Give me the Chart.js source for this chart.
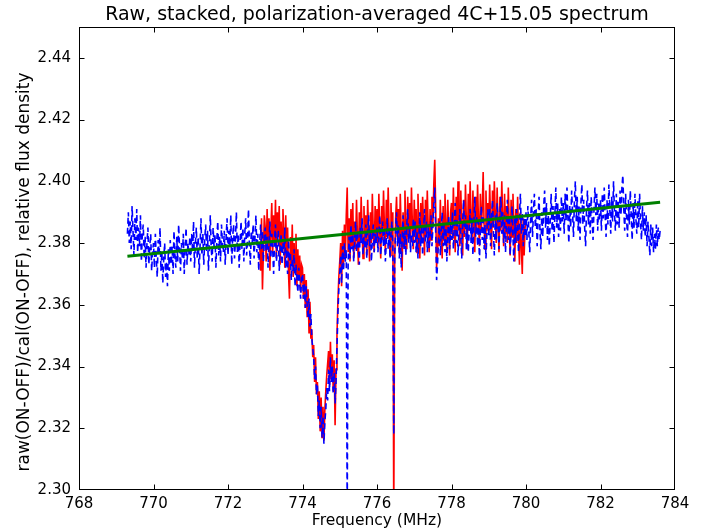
<!DOCTYPE html>
<html>
<head>
<meta charset="utf-8">
<script src="https://cdn.jsdelivr.net/npm/chart.js@4.4.0/dist/chart.umd.min.js"></script>
<style>
html, body { margin: 0; padding: 0; background: #fff; }
</style>
</head>
<body>
<canvas id="c" width="705" height="531"></canvas>
<script>
const titleText = 'Raw, stacked, polarization-averaged 4C+15.05 spectrum';
const xLabel = 'Frequency (MHz)';
const yLabel = 'raw(ON-OFF)/cal(ON-OFF), relative flux density';

const xTicks = [768, 770, 772, 774, 776, 778, 780, 782, 784];
const yTicks = [2.30, 2.32, 2.34, 2.36, 2.38, 2.40, 2.42, 2.44];

// blue (dashed) spectrum, channels every 0.025 MHz from 769.300
const blueStart = 769.300;
const blueStep = 0.025;
const blueFlux = [
  // 769.300 - 769.975
  2.383, 2.390, 2.380, 2.387, 2.378, 2.392, 2.384, 2.376, 2.388, 2.381, 2.391, 2.377, 2.385, 2.379, 2.389, 2.374, 2.383, 2.386, 2.375, 2.382, 2.372, 2.380, 2.385, 2.373, 2.379, 2.383, 2.371, 2.377,
  // 770
  2.380, 2.372, 2.383, 2.375, 2.369, 2.381, 2.376, 2.385, 2.371, 2.377, 2.367, 2.375, 2.380, 2.369, 2.374, 2.366, 2.378, 2.371, 2.381, 2.373,
  2.379, 2.370, 2.384, 2.376, 2.372, 2.382, 2.374, 2.386, 2.378, 2.371, 2.380, 2.375, 2.383, 2.370, 2.378, 2.385, 2.373, 2.380, 2.376, 2.382,
  // 771
  2.374, 2.383, 2.377, 2.387, 2.372, 2.380, 2.385, 2.375, 2.382, 2.370, 2.379, 2.388, 2.376, 2.383, 2.373, 2.381, 2.386, 2.377, 2.384, 2.371,
  2.380, 2.389, 2.378, 2.374, 2.385, 2.379, 2.383, 2.372, 2.381, 2.387, 2.376, 2.382, 2.374, 2.386, 2.380, 2.377, 2.384, 2.373, 2.382, 2.388,
  // 772
  2.376, 2.384, 2.379, 2.389, 2.373, 2.382, 2.386, 2.375, 2.381, 2.390, 2.377, 2.383, 2.372, 2.380, 2.387, 2.378, 2.385, 2.374, 2.383, 2.388,
  2.376, 2.381, 2.391, 2.379, 2.373, 2.384, 2.380, 2.386, 2.375, 2.382, 2.389, 2.377, 2.383, 2.371, 2.380, 2.386, 2.378, 2.384, 2.374, 2.381,
  // 773
  2.385, 2.377, 2.382, 2.372, 2.380, 2.387, 2.375, 2.383, 2.378, 2.370, 2.381, 2.386, 2.374, 2.379, 2.384, 2.371, 2.378, 2.383, 2.373, 2.380,
  2.376, 2.385, 2.372, 2.378, 2.370, 2.381, 2.374, 2.377, 2.368, 2.375, 2.371, 2.378, 2.366, 2.373, 2.369, 2.364, 2.372, 2.367, 2.362, 2.369,
  // 774
  2.370, 2.362, 2.367, 2.359, 2.366, 2.360, 2.356, 2.362, 2.353, 2.357, 2.349, 2.346, 2.343, 2.336, 2.340, 2.331, 2.334, 2.324, 2.329, 2.320,
  2.327, 2.317, 2.324, 2.315, 2.322, 2.326, 2.333, 2.329, 2.339, 2.332, 2.343, 2.335, 2.340, 2.331, 2.338, 2.328, 2.335, 2.346, 2.357, 2.365,
  // 775
  2.370, 2.376, 2.367, 2.379, 2.371, 2.380, 2.374, 2.378, 2.290, 2.373, 2.382, 2.375, 2.386, 2.378, 2.383, 2.374, 2.381, 2.387, 2.377, 2.384,
  2.379, 2.373, 2.385, 2.380, 2.388, 2.376, 2.382, 2.378, 2.386, 2.375, 2.383, 2.389, 2.379, 2.384, 2.374, 2.381, 2.386, 2.377, 2.383, 2.380,
  // 776
  2.385, 2.377, 2.383, 2.389, 2.376, 2.382, 2.387, 2.379, 2.384, 2.374, 2.381, 2.388, 2.378, 2.385, 2.375, 2.383, 2.387, 2.379, 2.318, 2.376,
  2.385, 2.390, 2.379, 2.386, 2.375, 2.383, 2.372, 2.381, 2.389, 2.378, 2.384, 2.376, 2.386, 2.391, 2.380, 2.385, 2.377, 2.383, 2.379, 2.388,
  // 777
  2.380, 2.387, 2.377, 2.384, 2.375, 2.382, 2.390, 2.379, 2.386, 2.376, 2.384, 2.391, 2.380, 2.387, 2.377, 2.385, 2.378, 2.383, 2.389, 2.379,
  2.385, 2.392, 2.398, 2.384, 2.368, 2.373, 2.381, 2.387, 2.376, 2.384, 2.390, 2.379, 2.386, 2.377, 2.385, 2.374, 2.382, 2.389, 2.378, 2.386,
  // 778
  2.381, 2.390, 2.378, 2.386, 2.393, 2.380, 2.388, 2.376, 2.385, 2.391, 2.382, 2.375, 2.387, 2.394, 2.383, 2.389, 2.378, 2.386, 2.377, 2.384,
  2.391, 2.380, 2.388, 2.376, 2.386, 2.395, 2.382, 2.389, 2.379, 2.387, 2.374, 2.384, 2.392, 2.381, 2.389, 2.378, 2.386, 2.375, 2.383, 2.391,
  // 779
  2.382, 2.391, 2.379, 2.388, 2.394, 2.384, 2.376, 2.389, 2.381, 2.393, 2.386, 2.378, 2.388, 2.395, 2.383, 2.390, 2.380, 2.389, 2.377, 2.386,
  2.394, 2.381, 2.389, 2.376, 2.385, 2.392, 2.382, 2.374, 2.388, 2.380, 2.391, 2.384, 2.377, 2.389, 2.396, 2.383, 2.390, 2.379, 2.388, 2.382,
  // 780
  2.390, 2.381, 2.392, 2.384, 2.377, 2.388, 2.394, 2.382, 2.390, 2.396, 2.385, 2.391, 2.379, 2.388, 2.395, 2.384, 2.378, 2.390, 2.382, 2.392,
  2.397, 2.385, 2.393, 2.381, 2.389, 2.379, 2.387, 2.396, 2.384, 2.392, 2.380, 2.389, 2.398, 2.385, 2.393, 2.382, 2.391, 2.384, 2.395, 2.387,
  // 781
  2.393, 2.383, 2.396, 2.387, 2.398, 2.388, 2.380, 2.392, 2.385, 2.397, 2.390, 2.382, 2.394, 2.400, 2.387, 2.395, 2.384, 2.392, 2.381, 2.393,
  2.399, 2.386, 2.394, 2.385, 2.379, 2.391, 2.397, 2.386, 2.393, 2.383, 2.395, 2.388, 2.381, 2.391, 2.398, 2.389, 2.396, 2.384, 2.393, 2.387,
  // 782
  2.394, 2.384, 2.396, 2.388, 2.398, 2.389, 2.382, 2.394, 2.386, 2.399, 2.391, 2.383, 2.395, 2.387, 2.400, 2.390, 2.384, 2.396, 2.386, 2.394,
  2.385, 2.397, 2.389, 2.398, 2.402, 2.391, 2.384, 2.396, 2.388, 2.382, 2.394, 2.386, 2.397, 2.389, 2.381, 2.393, 2.385, 2.396, 2.388, 2.383,
  // 783.000 - 783.600
  2.394, 2.385, 2.396, 2.387, 2.381, 2.392, 2.384, 2.390, 2.382, 2.389, 2.379, 2.387, 2.382, 2.376, 2.386, 2.379, 2.385, 2.377, 2.383, 2.378,
  2.386, 2.379, 2.385, 2.381, 2.384
];

// red (solid) spectrum, channels every 0.025 MHz from 772.850
const redStart = 772.850;
const redStep = 0.025;
const redFlux = [
  // 772.850 - 772.975
  2.380, 2.371, 2.388, 2.365, 2.377, 2.389,
  // 773
  2.385, 2.374, 2.391, 2.378, 2.388, 2.371, 2.384, 2.393, 2.377, 2.389, 2.380, 2.394, 2.375, 2.390, 2.382, 2.392, 2.373, 2.387, 2.379, 2.391,
  2.383, 2.372, 2.389, 2.376, 2.385, 2.370, 2.362, 2.382, 2.373, 2.386, 2.369, 2.380, 2.372, 2.383, 2.366, 2.378, 2.368, 2.376, 2.364, 2.373,
  // 774
  2.372, 2.362, 2.370, 2.359, 2.368, 2.356, 2.365, 2.351, 2.361, 2.349, 2.352, 2.343, 2.347, 2.335, 2.343, 2.331, 2.335, 2.323, 2.332, 2.319,
  2.330, 2.317, 2.327, 2.316, 2.326, 2.332, 2.337, 2.341, 2.345, 2.334, 2.348, 2.336, 2.344, 2.332, 2.342, 2.321, 2.339, 2.350, 2.361, 2.369,
  // 775
  2.374, 2.380, 2.366, 2.384, 2.372, 2.386, 2.375, 2.389, 2.398, 2.377, 2.388, 2.374, 2.391, 2.379, 2.393, 2.375, 2.387, 2.378, 2.394, 2.382,
  2.373, 2.390, 2.380, 2.395, 2.383, 2.375, 2.392, 2.380, 2.389, 2.376, 2.394, 2.383, 2.374, 2.390, 2.380, 2.396, 2.384, 2.377, 2.392, 2.382,
  // 776
  2.391, 2.379, 2.396, 2.383, 2.375, 2.392, 2.381, 2.397, 2.385, 2.377, 2.394, 2.382, 2.398, 2.385, 2.376, 2.393, 2.381, 2.390, 2.290, 2.374,
  2.388, 2.395, 2.381, 2.391, 2.377, 2.396, 2.384, 2.371, 2.390, 2.379, 2.397, 2.385, 2.378, 2.395, 2.382, 2.393, 2.380, 2.398, 2.386, 2.378,
  // 777
  2.394, 2.382, 2.391, 2.377, 2.396, 2.384, 2.375, 2.393, 2.380, 2.395, 2.386, 2.376, 2.394, 2.382, 2.397, 2.385, 2.377, 2.391, 2.381, 2.395,
  2.386, 2.399, 2.407, 2.392, 2.372, 2.377, 2.388, 2.379, 2.394, 2.383, 2.375, 2.392, 2.381, 2.396, 2.385, 2.377, 2.394, 2.384, 2.376, 2.390,
  // 778
  2.393, 2.381, 2.398, 2.386, 2.377, 2.395, 2.383, 2.400, 2.388, 2.379, 2.397, 2.385, 2.376, 2.394, 2.382, 2.399, 2.387, 2.378, 2.396, 2.384,
  2.400, 2.388, 2.380, 2.397, 2.386, 2.377, 2.395, 2.383, 2.399, 2.387, 2.379, 2.396, 2.384, 2.391, 2.403, 2.386, 2.378, 2.397, 2.384, 2.393,
  // 779
  2.383, 2.399, 2.387, 2.378, 2.397, 2.385, 2.400, 2.389, 2.380, 2.398, 2.386, 2.377, 2.395, 2.384, 2.400, 2.388, 2.379, 2.396, 2.383, 2.392,
  2.380, 2.398, 2.386, 2.376, 2.394, 2.382, 2.396, 2.385, 2.374, 2.391, 2.380, 2.395, 2.382, 2.373, 2.390, 2.379, 2.370, 2.388, 2.376, 2.385,
  // 780.000
  2.386
];

// green linear fit
const fitFreq = [769.3, 783.6];
const fitFlux = [2.3757, 2.3932];

const toPoints = (start, step, vals) =>
  vals.map((v, i) => ({ x: +(start + i * step).toFixed(3), y: v }));

const font = '"DejaVu Sans", sans-serif';

// frame, inward ticks on all four sides, title and axis labels
const frameTicks = {
  id: 'frameTicks',
  afterDraw(chart) {
    const { ctx, chartArea: a, scales: { x, y } } = chart;
    const L = Math.round(a.left) + 0.5, R = Math.round(a.right) - 0.5;
    const T = Math.round(a.top) + 0.5, B = Math.round(a.bottom) - 0.5;
    ctx.save();
    ctx.strokeStyle = '#000';
    ctx.lineWidth = 1;
    ctx.strokeRect(L, T, R - L, B - T);
    ctx.beginPath();
    const len = 5;
    xTicks.slice(1, -1).forEach(t => {
      const px = Math.round(x.getPixelForValue(t)) + 0.5;
      ctx.moveTo(px, B); ctx.lineTo(px, B - len);
      ctx.moveTo(px, T); ctx.lineTo(px, T + len);
    });
    yTicks.slice(1).forEach(t => {
      const py = Math.round(y.getPixelForValue(t)) + 0.5;
      ctx.moveTo(L, py); ctx.lineTo(L + len, py);
      ctx.moveTo(R, py); ctx.lineTo(R - len, py);
    });
    ctx.stroke();
    ctx.fillStyle = '#000';
    ctx.textAlign = 'center';
    ctx.textBaseline = 'middle';
    const cx = (a.left + a.right) / 2;
    ctx.font = '19px ' + font;
    ctx.fillText(titleText, cx, 15);
    ctx.font = '15.5px ' + font;
    ctx.fillText(xLabel, cx, 521);
    ctx.translate(25, 272);
    ctx.rotate(-Math.PI / 2);
    ctx.font = '17px ' + font;
    ctx.fillText(yLabel, 0, 0);
    ctx.restore();
  }
};

const chart = new Chart(document.getElementById('c').getContext('2d'), {
  type: 'line',
  data: {
    datasets: [
      {
        label: 'fit',
        data: fitFreq.map((f, i) => ({ x: f, y: fitFlux[i] })),
        borderColor: '#008000',
        borderWidth: 3,
        pointRadius: 0
      },
      {
        label: 'blue',
        data: toPoints(blueStart, blueStep, blueFlux),
        borderColor: '#0000ff',
        borderWidth: 1.6,
        borderDash: [6, 4],
        pointRadius: 0
      },
      {
        label: 'red',
        data: toPoints(redStart, redStep, redFlux),
        borderColor: '#ff0000',
        borderWidth: 1.6,
        pointRadius: 0
      }
    ]
  },
  options: {
    responsive: false,
    animation: false,
    devicePixelRatio: 1,
    layout: { padding: { top: 27, right: 30, left: 0, bottom: 0 } },
    plugins: {
      legend: { display: false },
      tooltip: { enabled: false },
      title: { display: false }
    },
    scales: {
      x: {
        type: 'linear',
        min: 768,
        max: 784,
        grid: { display: false, drawTicks: false },
        border: { display: false },
        afterFit: s => { s.height = 41; },
        afterBuildTicks: s => { s.ticks = xTicks.map(v => ({ value: v })); },
        ticks: {
          padding: 5,
          color: '#000',
          maxRotation: 0,
          autoSkip: false,
          font: { family: font, size: 15 },
          callback: v => String(v)
        }
      },
      y: {
        min: 2.30,
        max: 2.45,
        grid: { display: false, drawTicks: false },
        border: { display: false },
        afterFit: s => { s.width = 79; },
        afterBuildTicks: s => { s.ticks = yTicks.map(v => ({ value: v })); },
        ticks: {
          padding: 8,
          color: '#000',
          autoSkip: false,
          font: { family: font, size: 15 },
          callback: v => v.toFixed(2)
        }
      }
    }
  },
  plugins: [frameTicks]
});
</script>
</body>
</html>
